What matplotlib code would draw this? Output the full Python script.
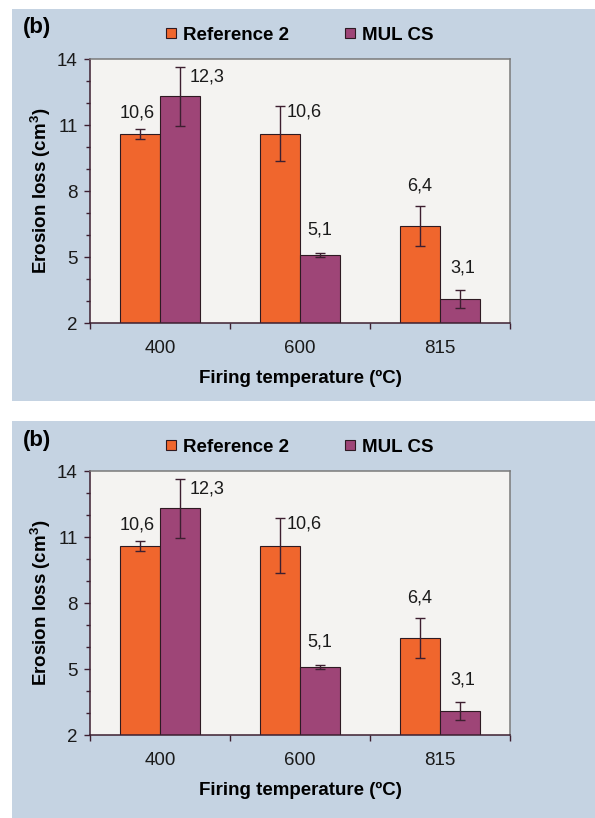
#! /usr/bin/env python3

import matplotlib
matplotlib.use('Agg')
import matplotlib.pyplot as plt
import numpy as np
from matplotlib.patches import Rectangle
from matplotlib.ticker import MultipleLocator

plt.rcParams['font.family'] = ['Liberation Sans', 'DejaVu Sans']
plt.rcParams['mathtext.fontset'] = 'custom'
plt.rcParams['mathtext.rm'] = 'Liberation Sans'
plt.rcParams['mathtext.bf'] = 'Liberation Sans:bold'

##
## Data
##
temperatures = ['400', '600', '815']
series_names = ['Reference 2', 'MUL CS']
reference2 = [10.6, 10.6, 6.4]
reference2_err = [0.23, 1.25, 0.9]
mul_cs = [12.3, 5.1, 3.1]
mul_cs_err = [1.35, 0.08, 0.4]

## label offsets (px) relative to top of bar
ref_label_offsets = [(-3, 21), (24, 22), (0, 40)]
mul_label_offsets = [(27, 19), (0, 25), (3, 31)]

orange = '#f0662d'
purple = '#9e4577'
edge = '#2e1a22'
err_color = '#3d1f30'
panel_bg = '#c5d3e2'
axes_bg = '#f4f3f1'
fs = 13.5

W, H = 595, 818
dpi = 100
px = 72 / dpi

figure = plt.figure(figsize=(W / dpi, H / dpi), dpi=dpi, facecolor='white')

## panel backgrounds (y in pixels from top)
panels = [(9, 401), (421, 818)]
axes_tops = [59, 471]


def draw_panel(ax):
    x = np.arange(len(temperatures))
    width = 40 / 140
    ax.set_facecolor(axes_bg)
    ax.bar(x - width / 2, reference2, width, color=orange,
           edgecolor=edge, linewidth=0.8, label=series_names[0], zorder=2)
    ax.bar(x + width / 2, mul_cs, width, color=purple,
           edgecolor=edge, linewidth=0.8, label=series_names[1], zorder=2)
    ax.errorbar(x - width / 2, reference2, yerr=reference2_err, fmt='none',
                ecolor=err_color, elinewidth=1.0, capsize=3.5, capthick=1.0, zorder=3)
    ax.errorbar(x + width / 2, mul_cs, yerr=mul_cs_err, fmt='none',
                ecolor=err_color, elinewidth=1.0, capsize=3.5, capthick=1.0, zorder=3)

    for i, v in enumerate(reference2):
        dx, dy = ref_label_offsets[i]
        ax.annotate(f'{v:.1f}'.replace('.', ','), (x[i] - width / 2, v),
                    xytext=(dx * px, dy * px), textcoords='offset points',
                    ha='center', va='center', fontsize=13, color='#1a1a1a')
    for i, v in enumerate(mul_cs):
        dx, dy = mul_label_offsets[i]
        ax.annotate(f'{v:.1f}'.replace('.', ','), (x[i] + width / 2, v),
                    xytext=(dx * px, dy * px), textcoords='offset points',
                    ha='center', va='center', fontsize=13, color='#1a1a1a')

    ax.set_xlim(-0.5, 2.5)
    ax.set_ylim(2, 14)
    ax.set_yticks([2, 5, 8, 11, 14])
    ax.yaxis.set_minor_locator(MultipleLocator(1))
    ax.set_xticks(x)
    ax.set_xticklabels(temperatures)
    ax.set_xticks([-0.5, 0.5, 1.5, 2.5], minor=True)

    ax.tick_params(axis='y', which='major', direction='out', length=4,
                   width=1.0, color=err_color, pad=5, labelsize=fs,
                   labelcolor='#1a1a1a')
    ax.tick_params(axis='y', which='minor', direction='out', length=3,
                   width=1.0, color=err_color)
    ax.tick_params(axis='x', which='major', length=0, pad=12.5, labelsize=fs,
                   labelcolor='#1a1a1a')
    ax.tick_params(axis='x', which='minor', direction='out', length=4,
                   width=1.0, color=err_color)

    for side in ['left', 'bottom']:
        ax.spines[side].set_color(err_color)
        ax.spines[side].set_linewidth(1.1)
    for side in ['top', 'right']:
        ax.spines[side].set_color('#7a7a7a')
        ax.spines[side].set_linewidth(1.1)

    ax.set_xlabel('Firing temperature (ºC)', fontsize=fs, fontweight='bold',
                  labelpad=9)
    ax.set_ylabel(r'Erosion loss (cm$^{\mathregular{3}}$)', fontsize=fs,
                  fontweight='bold', labelpad=3)

    ax.legend(loc='center', bbox_to_anchor=(0.5, 1 + 24 / 264), ncol=2,
              frameon=False, prop={'weight': 'bold', 'size': fs},
              handlelength=0.5, handleheight=0.5, handletextpad=0.4,
              columnspacing=3.0, borderaxespad=0)


for (ptop, pbot), atop in zip(panels, axes_tops):
    figure.patches.append(Rectangle((12 / W, 1 - pbot / H), (W - 12) / W,
                                    (pbot - ptop) / H, transform=figure.transFigure,
                                    facecolor=panel_bg, edgecolor='none', zorder=-5))
    ax = figure.add_axes([90 / W, 1 - (atop + 264) / H, 420 / W, 264 / H])
    draw_panel(ax)
    figure.text(23 / W, 1 - (ptop + 19) / H, '(b)', fontsize=16,
                fontweight='bold', ha='left', va='center')

figure.savefig('out.png', dpi=dpi)
